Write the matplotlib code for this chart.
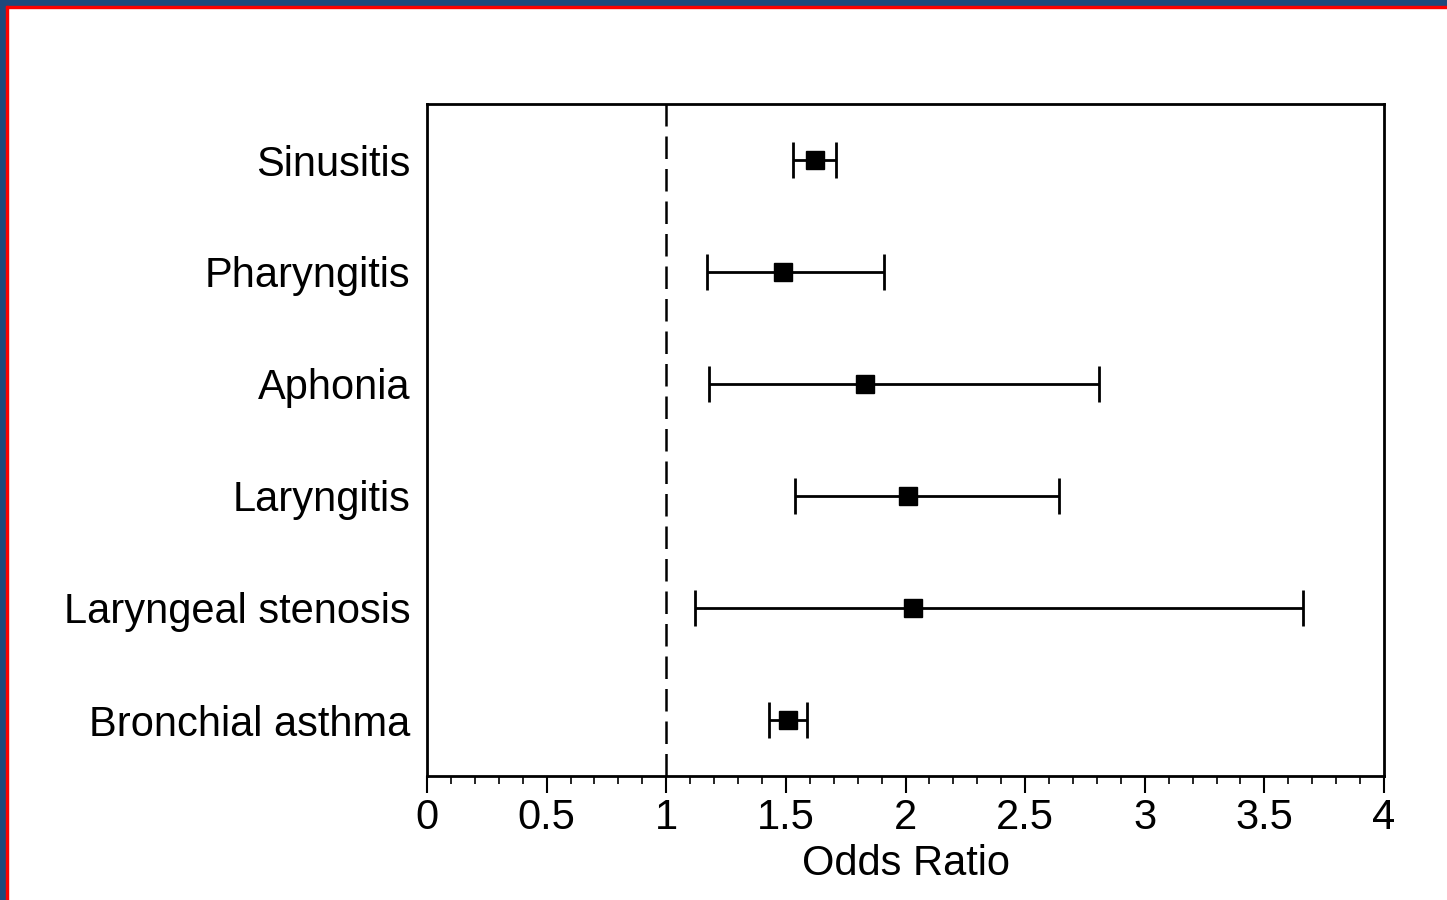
import matplotlib.pyplot as plt
from matplotlib.patches import Rectangle
from matplotlib.ticker import MultipleLocator

# data
conditions = ['Sinusitis', 'Pharyngitis', 'Aphonia', 'Laryngitis',
              'Laryngeal stenosis', 'Bronchial asthma']
odds_ratio = [1.62, 1.49, 1.83, 2.01, 2.03, 1.51]
ci_low = [1.53, 1.17, 1.18, 1.54, 1.12, 1.43]
ci_high = [1.71, 1.91, 2.81, 2.64, 3.66, 1.59]
xticks = [0, 0.5, 1, 1.5, 2, 2.5, 3, 3.5, 4]
xtick_labels = ['0', '0.5', '1', '1.5', '2', '2.5', '3', '3.5', '4']

plt.rcParams['font.family'] = ['Liberation Sans', 'DejaVu Sans']

W, H = 1447, 900
fig = plt.figure(figsize=(W / 100, H / 100), dpi=100)

# frame: blue band top/left with thin red inner line
fig.patches.append(Rectangle((0, 1 - 6 / H), 1, 6 / H, transform=fig.transFigure,
                             color='#1f487c', zorder=0))
fig.patches.append(Rectangle((0, 0), 6 / W, 1, transform=fig.transFigure,
                             color='#1f487c', zorder=0))
fig.patches.append(Rectangle((6 / W, 1 - 8 / H), 1, 2 / H, transform=fig.transFigure,
                             color='red', zorder=0))
fig.patches.append(Rectangle((6 / W, 0), 2 / W, 1 - 6 / H, transform=fig.transFigure,
                             color='red', zorder=0))

ax = fig.add_axes([427 / W, 1 - 776 / H, (1384 - 427) / W, (776 - 104) / H])

ypos = list(range(len(conditions)))
xerr = [[o - l for o, l in zip(odds_ratio, ci_low)],
        [h - o for o, h in zip(odds_ratio, ci_high)]]
ax.errorbar(odds_ratio, ypos, xerr=xerr, fmt='s', color='black', ms=13,
            elinewidth=2, capsize=13, capthick=2)

ax.axvline(1, color='black', lw=1.8, dashes=(9, 4))

ax.set_xlim(0, 4)
ax.set_ylim(5.5, -0.5)
ax.set_yticks(ypos)
ax.set_yticklabels(conditions, fontsize=30)
ax.tick_params(axis='y', length=0, pad=12)
ax.set_xticks(xticks)
ax.set_xticklabels(xtick_labels, fontsize=30)
ax.xaxis.set_minor_locator(MultipleLocator(0.1))
ax.tick_params(axis='x', which='major', direction='out', length=12, width=1.5, pad=4)
ax.tick_params(axis='x', which='minor', direction='out', length=6, width=1.2)
ax.set_xlabel('Odds Ratio', fontsize=30, labelpad=4)

for s in ax.spines.values():
    s.set_linewidth(2)

fig.savefig('out.png', dpi=100)
